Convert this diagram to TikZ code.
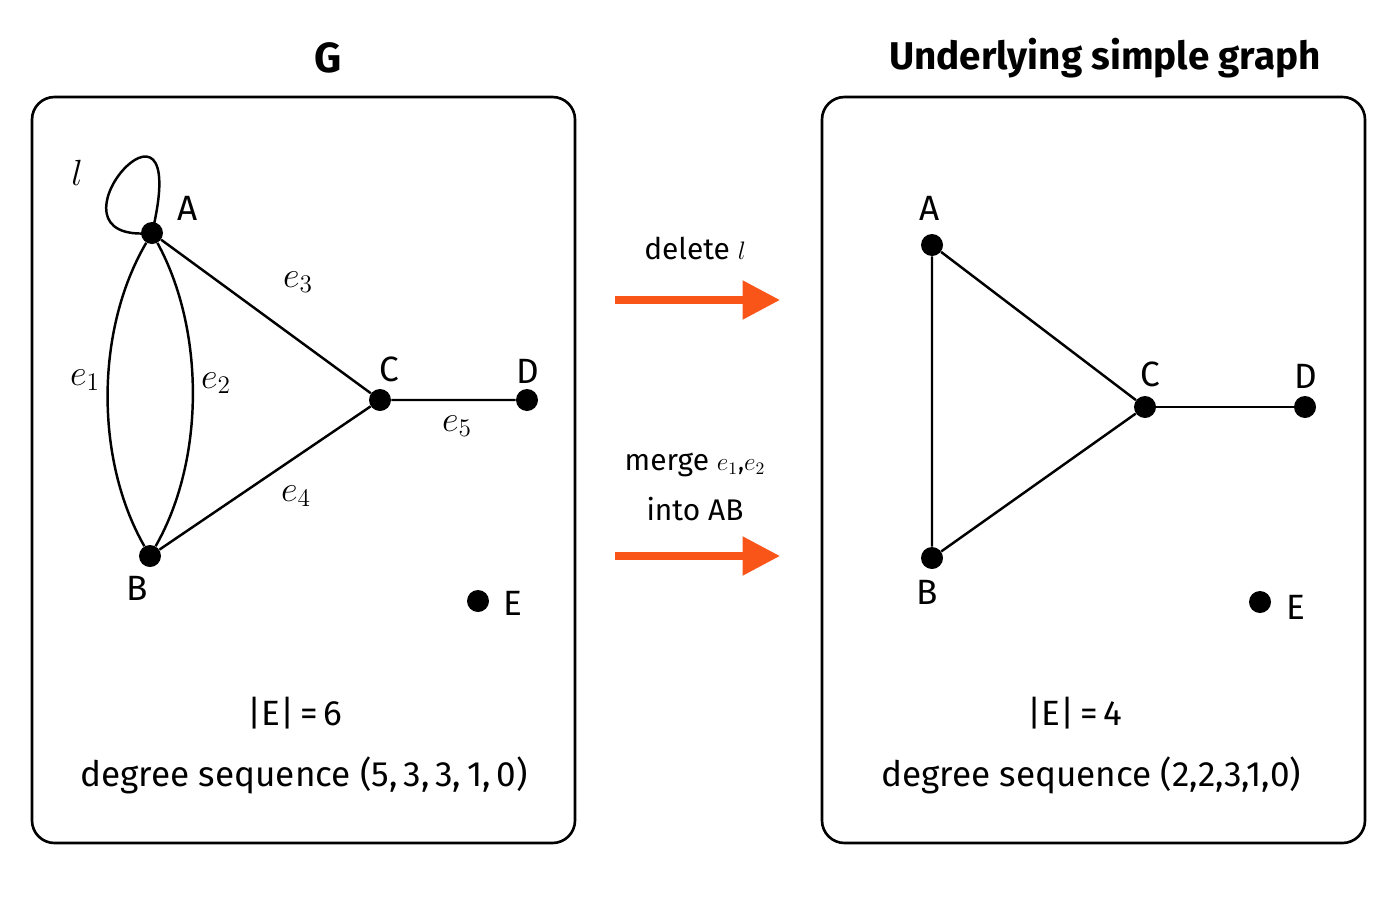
\documentclass[tikz,border=0pt]{standalone}
\usepackage{fontspec}
\setmainfont{Fira Sans}
\usetikzlibrary{arrows.meta}
\definecolor{arrorange}{RGB}{250,85,25}
\begin{document}
\begin{tikzpicture}[x=0.02cm,y=-0.02cm,
    vertex/.style={circle, fill=black, inner sep=0pt, minimum size=0.44cm},
    vlabel/.style={font=\fontsize{20}{22}\selectfont},
    elabel/.style={font=\fontsize{22}{24}\selectfont},
    panel/.style={draw, line width=1.5pt, rounded corners=0.45cm},
    edge/.style={line width=1.4pt},
    reduce/.style={draw=arrorange, line width=4pt, -{Triangle[length=0.75cm,width=0.75cm]}}]
    \useasboundingbox (0,0) rectangle (1400,900);

    % panels and titles
    \draw[panel] (32,97) rectangle (575,843);
    \draw[panel] (822,97) rectangle (1365,843);
    \node[font=\fontsize{24}{28}\selectfont\bfseries] (tG) at (328,58) {G};
    \node[font=\fontsize{22}{28}\selectfont\bfseries] (tH) at (1105,58) {Underlying simple graph};

    % graph G
    \node[vertex] (A) at (152,233) {};
    \node[vertex] (B) at (150,556) {};
    \node[vertex] (C) at (380,400) {};
    \node[vertex] (D) at (527,400) {};
    \node[vertex] (E) at (478,601) {};
    \node[vlabel] (lA) at (188,208) {A};
    \node[vlabel] (lB) at (137,588) {B};
    \node[vlabel] (lC) at (389,369) {C};
    \node[vlabel] (lD) at (528,371) {D};
    \node[vlabel] (lE) at (513,603) {E};
    \draw[edge] (A.center) .. controls (30,245) and (195,55) .. (A.center);
    \draw[edge] (A) .. controls (95,330) and (95,460) .. (B);
    \draw[edge] (A) .. controls (205,330) and (205,460) .. (B);
    \draw[edge] (A) -- (C) -- (D);
    \draw[edge] (B) -- (C);
    \node[elabel] (ll) at (77,173) {$l$};
    \node[elabel] (e1) at (85,380) {$e_1$};
    \node[elabel] (e2) at (216,383) {$e_2$};
    \node[elabel] (e3) at (298,282) {$e_3$};
    \node[elabel] (e4) at (296,496) {$e_4$};
    \node[elabel] (e5) at (457,426) {$e_5$};
    \node[vlabel] (nG) at (295,713) {|E|\,=\,6};
    \node[vlabel] (sG) at (304,775) {degree sequence (5,\,3,\,3,\,1,\,0)};

    % arrows
    \coordinate (s1) at (615,300);
    \coordinate (t1) at (780,300);
    \coordinate (s2) at (615,556);
    \coordinate (t2) at (780,556);
    \draw[reduce] (s1) -- (t1);
    \draw[reduce] (s2) -- (t2);
    \node[font=\fontsize{17}{20}\selectfont] (d1) at (695,248) {delete \Large$l$};
    \node[font=\fontsize{17}{20}\selectfont] (m1) at (695,465) {merge \Large$e_1$,$e_2$};
    \node[font=\fontsize{17}{20}\selectfont] (m2) at (695,509) {into AB};

    % simple graph
    \node[vertex] (A2) at (932,245) {};
    \node[vertex] (B2) at (932,558) {};
    \node[vertex] (C2) at (1145,407) {};
    \node[vertex] (D2) at (1305,407) {};
    \node[vertex] (E2) at (1260,602) {};
    \node[vlabel] (lA2) at (930,208) {A};
    \node[vlabel] (lB2) at (927,592) {B};
    \node[vlabel] (lC2) at (1150,374) {C};
    \node[vlabel] (lD2) at (1306,376) {D};
    \node[vlabel] (lE2) at (1296,607) {E};
    \draw[edge] (A2) -- (B2) -- (C2) -- (A2);
    \draw[edge] (C2) -- (D2);
    \node[vlabel] (nH) at (1075,713) {|E|\,=\,4};
    \node[vlabel] (sH) at (1091,775) {degree sequence (2,2,3,1,0)};
\end{tikzpicture}
\end{document}
